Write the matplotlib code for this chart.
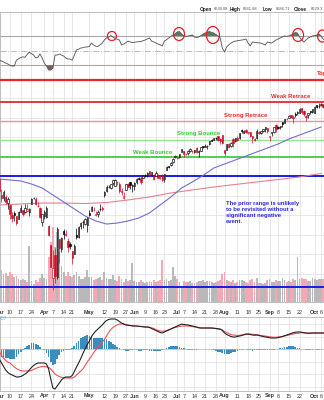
import numpy as np
import pandas as pd
import matplotlib
matplotlib.use("Agg")
import matplotlib.pyplot as plt
from matplotlib.patches import Ellipse, Rectangle

plt.rcParams['font.family'] = ['Liberation Sans', 'DejaVu Sans']

W, H = 324, 400

# ---------------- data ----------------
holidays = ['2025-04-18', '2025-05-26', '2025-06-19', '2025-07-04', '2025-09-01']
dates = pd.bdate_range('2025-03-03', '2025-10-08')
dates = dates[~dates.isin(pd.to_datetime(holidays))]

opens = [5968,5811,5781,5785,5726, 5705,5603,5624,5594,5563, 5635,5654,5632,5646,5630,
         5718,5776,5772,5700,5679, 5527,5598,5580,5492,5292, 4953,5193,4966,5353,5255,
         5441,5411,5335,5305, 5232,5207,5395,5381,5489, 5529,5508,5500,5626,5645,
         5655,5605,5615,5663,5679, 5808,5854,5887,5875,5929, 5902,5944,5926,5842,5782,
         5855,5926,5944,5903, 5897,5939,5978,5985,5987, 6004,6010,6050,6009,5997,
         6005,6012,5987,6005, 5970,6062,6104,6112,6151, 6193,6187,6193,6247,
         6259,6233,6238,6263,6255, 6248,6295,6248,6264,6307, 6304,6307,6326,6368,6371,
         6397,6409,6379,6428,6269, 6272,6336,6309,6384,6359, 6390,6394,6466,6445,6479,
         6445,6451,6409,6380,6389, 6457,6441,6460,6485,6497, 6401,6445,6456,6529,
         6505,6501,6553,6546,6590, 6600,6626,6611,6631,6649, 6653,6696,6669,6618,6628,
         6661,6654,6653,6731,6722, 6727,6742,6716]
highs = [5987,5866,5860,5812,5783, 5706,5636,5642,5598,5645, 5703,5654,5716,5712,5673,
         5775,5786,5784,5733,5685, 5615,5650,5695,5500,5292, 5246,5267,5481,5353,5381,
         5460,5450,5367,5329, 5232,5309,5470,5490,5528, 5553,5572,5581,5658,5700,
         5683,5648,5655,5720,5691, 5847,5907,5907,5920,5958, 5969,5954,5939,5879,5839,
         5922,5930,5944,5922, 5938,5981,5990,5999,6017, 6022,6044,6059,6045,6027,
         6051,6024,6018,6019, 6025,6101,6108,6146,6187, 6215,6211,6227,6284,
         6263,6242,6266,6286,6269, 6272,6302,6270,6304,6315, 6336,6317,6360,6381,6390,
         6401,6410,6390,6428,6269, 6330,6344,6352,6388,6396, 6410,6446,6481,6476,6482,
         6459,6456,6410,6393,6481, 6467,6468,6488,6508,6497, 6416,6454,6502,6533,
         6512,6515,6555,6592,6600, 6626,6627,6626,6656,6671, 6697,6697,6677,6626,6650,
         6670,6693,6718,6731,6750, 6749,6746,6753]
lows = [5810,5732,5742,5711,5667, 5565,5528,5546,5504,5563, 5633,5598,5622,5629,5597,
        5718,5765,5703,5683,5572, 5489,5558,5571,5391,5070, 4835,4910,4950,5116,5221,
        5360,5386,5220,5255, 5102,5207,5359,5371,5455, 5469,5505,5434,5597,5644,
        5640,5590,5580,5640,5644, 5788,5843,5876,5867,5907, 5896,5915,5832,5810,5767,
        5855,5886,5872,5844, 5862,5921,5966,5921,5978, 5994,5990,6003,6003,5963,
        6005,5980,5971,5953, 5943,6062,6081,6107,6133, 6187,6180,6189,6245,
        6201,6217,6219,6251,6243, 6242,6242,6201,6263,6285, 6303,6282,6317,6360,6369,
        6375,6358,6331,6327,6213, 6272,6288,6304,6299,6355, 6362,6382,6446,6442,6441,
        6438,6400,6344,6358,6385, 6438,6429,6454,6459,6441, 6360,6418,6444,6455,
        6483,6482,6506,6544,6577, 6597,6597,6551,6610,6633, 6650,6641,6623,6570,6601,
        6638,6651,6652,6696,6705, 6718,6699,6708]
closes = [5849,5778,5842,5739,5770, 5614,5572,5599,5522,5639, 5675,5615,5675,5663,5668,
          5768,5777,5712,5693,5581, 5612,5633,5671,5397,5074, 5062,4982,5457,5268,5363,
          5406,5396,5276,5283, 5158,5288,5376,5485,5525, 5529,5561,5569,5604,5686,
          5650,5607,5631,5664,5660, 5844,5886,5892,5917,5958, 5964,5941,5845,5842,5802,
          5922,5889,5912,5912, 5936,5970,5971,5939,6000, 6006,6038,6022,6045,5977,
          6033,5983,5981,5967, 6025,6092,6092,6141,6173, 6205,6198,6227,6279,
          6230,6226,6263,6280,6260, 6269,6244,6264,6297,6297, 6306,6309,6359,6363,6389,
          6390,6371,6362,6339,6238, 6330,6299,6345,6340,6389, 6374,6446,6466,6469,6450,
          6449,6411,6396,6370,6467, 6439,6466,6481,6502,6460, 6416,6448,6502,6482,
          6495,6512,6532,6587,6584, 6615,6606,6600,6631,6664, 6693,6656,6638,6605,6644,
          6661,6688,6711,6715,6716, 6740,6714,6753]
prior_close = 5955

volume = [2.9,3.2,2.8,2.9,2.6, 3.0,2.8,2.5,2.6,2.3, 2.2,2.3,2.2,2.0,5.6,
          2.1,1.8,2.2,2.0,2.4, 2.8,2.4,2.3,4.5,6.0, 7.5,5.5,7.0,5.0,3.6,
          3.0,2.6,3.0,2.6, 2.5,2.7,3.0,2.6,2.3, 2.3,2.5,3.2,2.5,2.5,
          2.2,2.3,2.4,2.5,2.2, 3.0,2.4,2.3,2.3,2.7, 2.2,2.1,2.6,2.3,2.0,
          2.3,2.1,2.2,3.9, 2.1,2.0,2.0,2.2,2.0, 1.9,2.0,2.1,2.0,2.2,
          2.0,2.1,2.2,4.2, 2.2,2.3,2.1,2.2,3.5, 2.6,2.3,2.0,1.6,
          2.1,2.0,2.0,2.1,1.9, 1.9,2.0,2.1,2.1,2.2, 2.0,2.1,2.1,2.0,1.9,
          2.0,2.1,2.2,2.8,3.0, 2.2,2.1,2.0,2.2,1.9, 2.0,2.2,2.2,2.1,2.0,
          1.9,2.2,2.3,2.0,2.4, 1.9,1.9,1.8,1.9,2.2, 2.3,2.0,2.0,2.2,
          2.1,2.1,2.4,2.2,2.0, 2.1,2.0,2.3,2.2,4.5, 2.3,2.4,2.3,2.3,2.1,
          2.1,2.4,2.3,2.2,2.3, 2.3,2.3,2.3]

rsi = [37.3,36,34.5,33,31.8, 30,29,29,37,39, 40.7,41.5,41,45,48, 46,44,40,41,45.5,
       40,33,29,23.6,23.6, 26,44,44,45.5,44, 42.7,40,38.6,38.6, 37,44,51,52,53.6,
       54,55,55,55.7,60.4, 57.7,56,55.7,58,60.4, 64.5,67.3,68.5,70.5,68.6,
       66.6,65.5,64.5,57.7,59, 61,63,62,61, 61.5,61.8,62,62.5,63.5,
       64.5,66,67.3,63,62, 60.4,59,58,56.4, 63,65,67.3,69.5,71.4, 73,75.5,76,72.7,
       70,69.5,70,70.5,71.4, 68.6,68,68.6,70.5,72.7, 74,75.5,76,75,74,
       72,70,67.3,53.6,48, 55,58,60.4,62,63, 63.5,64,64.5,65,65.9,
       60.4,56.4,61.8,61.5,61, 60.5,60.4,59,57.7,61.8, 61,60.4,62.5,64.5,
       66,67.3,68.5,70,69.5, 70,71.4,72.7,74.8,74, 68.6,64.5,61.8,64.5,67.3,
       68.5,70,70.5,71.4,72.7, 70,65.9,64]

macd = [-40,-55,-70,-84,-94, -100,-104,-108,-112,-112, -110,-106,-100,-94,-84,
        -74,-66,-60,-56,-56, -56,-56,-60,-80,-120, -156,-160,-148,-136,-124,
        -116,-112,-112,-112, -106,-90,-72,-56,-38, -18,0,18,32,50,
        62,72,80,88,96, 106,114,118,120,120, 120,116,110,104,100,
        96,95,94,93, 92,92,91,90,89, 88,88,86,82,78,
        74,70,66,64, 68,72,76,80,84, 88,92,96,100,
        98,97,96,94,92, 90,88,85,84,84, 84,84,84,84,83,
        82,81,80,74,64, 58,54,50,48,48, 50,52,54,57,60,
        60,58,56,55,56, 54,52,50,48,47, 45,44,44,44,
        46,48,50,53,56, 59,62,65,67,68, 68,67,65,64,63,
        63,64,64,64,64, 64,64,64]
signal = [-12,-24,-36,-46,-52, -56,-64,-72,-78,-83, -86,-88,-88,-88,-88,
          -86,-82,-78,-74,-72, -70,-70,-71,-73,-80, -90,-100,-106,-110,-113,
          -115,-116,-116,-116, -116,-112,-104,-96,-88, -80,-66,-52,-40,-28,
          -14,-4,8,16,26, 38,52,66,78,86, 92,96,100,100,100,
          98,96,94,92, 92,91,90,90,89, 88,88,87,85,82,
          78,74,72,71, 72,74,77,80,84, 86,88,90,92,
          92,92,92,91,90, 88,87,85,84,84, 84,84,84,84,83,
          82,80,78,76,70, 66,62,58,56,55, 54,55,56,57,58,
          59,60,59,58,57, 56,54,53,52,50, 49,48,47,47,
          48,48,50,52,54, 56,58,60,62,63, 64,65,65,64,64,
          64,64,64,64,64, 64,64,64]
hist = [-28,-30,-32,-34,-36, -38,-40,-38,-30,-20, -10,-4,4,12,18,
        24,25,22,16,8, 2,-4,-14,-30,-50, -64,-58,-40,-24,-12,
        -6,-4,-4,-2, 4,14,24,34,44, 50,54,56,54,50,
        46,44,44,44,44, 42,40,34,28,22, 16,10,4,0,-4,
        -6,-6,-5,-4, -4,-5,-6,-6,-5, -4,-5,-6,-7,-8,
        -8,-8,-6,-3, 2,6,9,11,12, 12,11,9,6,
        3,0,-2,-3,-3, -2,-2,-1,0,1, 1,0,-1,-2,-4,
        -7,-10,-13,-16,-18, -19,-18,-16,-13,-10, -7,-4,-2,-1,0,
        -2,-4,-6,-5,-3, -2,-3,-5,-4,-3, -4,-4,-3,-1,
        2,4,6,8,10, 11,12,11,9,6, 3,1,-1,-2,-3,
        -2,-2,-1,-2,-2, -1,-1,-1]

ma50_idx = list(range(0, 151, 5))
ma50 = [5972,5962,5952,5921,5880,5808,5737,5665,5593,5542,5511,5521,5542,5572,5624,
        5706,5788,5880,5942,6008,6085,6126,6167,6208,6249,6290,6331,6382,6423,6464,6505]
ma200_idx = list(range(0, 151, 10))
ma200 = [5706,5716,5726,5726,5721,5731,5757,5788,5829,5860,5890,5916,5942,5967,5993,6029]

level_prices = [6985, 6761, 6567, 6372, 6198, 6003, 4865]
level_labels = ['Top', 'Weak Retrace', 'Strong Retrace', 'Strong Bounce', 'Weak Bounce', '', '']

circle_idx = [52.5, 83.8, 99.6, 139.3, 150.5]
circle_rsi = [70, 72.7, 71.4, 71.4, 70]

tick_dates = ['2025-03-03','2025-03-10','2025-03-17','2025-03-24','2025-04-01','2025-04-07',
              '2025-04-14','2025-04-21','2025-05-01','2025-05-12','2025-05-19','2025-05-27',
              '2025-06-02','2025-06-09','2025-06-16','2025-06-23','2025-07-01','2025-07-07',
              '2025-07-14','2025-07-21','2025-07-28','2025-08-01','2025-08-11','2025-08-18',
              '2025-08-25','2025-09-02','2025-09-08','2025-09-15','2025-09-22','2025-10-01',
              '2025-10-06']
month_starts = ['03-03', '04-01', '05-01', '06-02', '07-01', '08-01', '09-02', '10-01']

header_labels = ['Open', 'High', 'Low', 'Close']
header_values = ['6630.08', '6661.68', '6586.71', '6629.3']

# ---------------- layout ----------------
n = len(closes)
x = np.arange(n)
XL = (5 - 10 / 2.145, 5 + (W - 10) / 2.145)

def rect(top, bottom):
    return [0, 1 - bottom / H, 1, (bottom - top) / H]

fig = plt.figure(figsize=(W / 100, H / 100), dpi=100)
fig.patch.set_facecolor('white')

GRID = '#e4e4e4'
tick_pos = [int(np.where(dates == pd.Timestamp(d))[0][0]) for d in tick_dates]
tick_lab, tick_bold = [], []
for d in tick_dates:
    ts = pd.Timestamp(d)
    if ts.strftime('%m-%d') in month_starts:
        tick_lab.append(ts.strftime('%b')); tick_bold.append(True)
    else:
        tick_lab.append(str(ts.day)); tick_bold.append(False)

def style_ax(ax):
    ax.set_xlim(*XL)
    ax.set_xticks([]); ax.set_yticks([])
    for s in ax.spines.values():
        s.set_color('#b4b4b4'); s.set_linewidth(0.6)
    for p in tick_pos:
        ax.axvline(p, color=GRID, lw=0.6, zorder=0)

def ftext(px, py, s, **kw):
    fig.text(px / W, 1 - py / H, s, **kw)

# ---- RSI panel ----
rsi_top = 70 + (36 - 12) / 0.733
rsi_bot = 70 - (80 - 36) / 0.733
axr = fig.add_axes(rect(12, 80))
style_ax(axr)
axr.spines['bottom'].set_visible(False)
axr.set_ylim(rsi_bot, rsi_top)
axr.axhline(70, color='#a8a8a8', lw=0.8, zorder=1)
axr.axhline(30, color='#a8a8a8', lw=0.8, zorder=1)
axr.axhline(50, color='#bcbcbc', lw=0.7, ls='-.', zorder=1)
r = np.array(rsi)
axr.fill_between(x, r, 70, where=r > 70, interpolate=True, color='#55805a', lw=0, zorder=2)
axr.fill_between(x, r, 30, where=r < 30, interpolate=True, color='#7d5f60', lw=0, zorder=2)
axr.plot(x, r, color='#5a5a5a', lw=0.65, zorder=3)
circ_w = [4.2, 5.1, 6.1, 5.1, 4.2]
circ_h = [12.3, 17.7, 23.2, 17.7, 16.4]
for cx, cy, cw, ch in zip(circle_idx, circle_rsi, circ_w, circ_h):
    axr.add_patch(Ellipse((cx, cy), cw, ch, fill=False, ec='#e41e26', lw=0.9, zorder=5, clip_on=False))

# ---- price panel ----
P_LO = 6700 - (302 - 108) * 10.25
P_HI = 6700 - (80 - 108) * 10.25
main_rect = rect(80, 302)
axv = fig.add_axes(main_rect)
style_ax(axv)
axv.set_ylim(0, 22.2)
for gp in range(4800, 7000, 200):
    axv.axhline((gp - P_LO) / (P_HI - P_LO) * 22.2, color=GRID, lw=0.6, zorder=0)
prev = [prior_close] + closes[:-1]
up = [c >= p for c, p in zip(closes, prev)]
vcol = ['#b9b9b9' if u else '#f2a9b3' for u in up]
axv.bar(x, volume, width=0.85, color=vcol, lw=0, zorder=1)

axp = fig.add_axes(main_rect)
axp.set_facecolor('none')
axp.set_xlim(*XL)
axp.set_ylim(P_LO, P_HI)
axp.set_xticks([]); axp.set_yticks([])
for s in axp.spines.values():
    s.set_visible(False)

level_colors = ['#e8262e', '#e8262e', '#f29090', '#95e495', '#44cc44', '#1a1ae6', '#1a1ae6']
level_lw = [1.6, 1.3, 1.0, 1.0, 1.3, 1.4, 1.4]
for lp, lc, lw in zip(level_prices, level_colors, level_lw):
    axp.axhline(lp, color=lc, lw=lw, zorder=2, clip_on=False)

axp.plot(ma200_idx, ma200, color='#e8808c', lw=0.8, zorder=3)
axp.plot(ma50_idx, ma50, color='#6f6fd2', lw=0.8, zorder=3)

for i in range(n):
    o, h, l, c = opens[i], highs[i], lows[i], closes[i]
    col = '#d0102c' if c < prev[i] else '#000000'
    axp.vlines(i, l, h, color=col, lw=0.5, zorder=4)
    fc = 'white' if c > o else col
    axp.add_patch(Rectangle((i - 0.32, min(o, c)), 0.64, max(abs(c - o), 4),
                            fc=fc, ec=col, lw=0.45, zorder=5))

lab_pos = [(316.5, 73), (271, 96.5), (224, 115.5), (177, 133.5), (133, 152)]
lab_col = ['#e8262e', '#e8262e', '#e8262e', '#2ecc2e', '#2ecc2e']
for (px, py), s, c in zip(lab_pos, level_labels[:5], lab_col):
    ftext(px, py, s, color=c, fontsize=4.3, fontweight='bold', va='center', ha='left')

note = 'The prior range is unlikely\nto be revisited without a\nsignificant negative\nevent.'
ftext(226, 201.2, note, color='#2626e0', fontsize=4.2, fontweight='bold', va='top',
      ha='left', linespacing=1.24)

# header
hdr_x = [(200, 214), (230, 243), (263, 276), (294, 311)]
for (lx, vx), lab, val in zip(hdr_x, header_labels, header_values):
    ftext(lx, 9.5, lab, fontsize=3.4, fontweight='bold', color='#1a1a1a', va='center', ha='left')
    ftext(vx, 9.5, val, fontsize=2.9, color='#505050', va='center', ha='left')

# ---- x labels ----
def xlabels(py):
    for p, s, b in zip(tick_pos, tick_lab, tick_bold):
        px = 10 + (p - 5) * 2.145
        ftext(px, py, s, fontsize=3.9, fontweight='bold' if b else 'normal',
              color='#333333', ha='center', va='center')

xlabels(312.5)

# ---- MACD panel ----
axm = fig.add_axes(rect(317, 391))
style_ax(axm)
axm.set_ylim(-168, 128)
for gv in [100, 50, -50, -100, -150]:
    axm.axhline(gv, color=GRID, lw=0.6, zorder=0)
axm.bar(x, hist, width=0.8, color='#3a8dbf', lw=0, zorder=2)
axm.axhline(0, color='#8fbcd8', lw=0.5, zorder=2)
axm.plot(x, signal, color='#f0505a', lw=0.8, zorder=3)
axm.plot(x, macd, color='#222222', lw=0.8, zorder=4)
ftext(7, 318.5, '1.857', fontsize=3.6, color='#6aaee0', ha='right', va='center')

xlabels(396)

fig.savefig('out.png', dpi=100, facecolor='white')
